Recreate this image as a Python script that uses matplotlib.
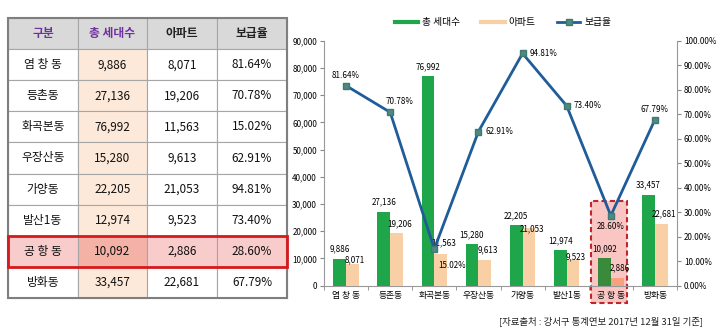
import numpy as np
import matplotlib.pyplot as plt
from matplotlib.patches import Rectangle
from matplotlib.lines import Line2D
from matplotlib.ticker import FuncFormatter

plt.rcParams['font.family'] = ['Noto Sans CJK KR', 'DejaVu Sans']

# 강서구 동별 주택 보급율
dongs = ['염 창 동', '등촌동', '화곡본동', '우장산동', '가양동', '발산1동', '공 항 동', '방화동']
households = [9886, 27136, 76992, 15280, 22205, 12974, 10092, 33457]
apartments = [8071, 19206, 11563, 9613, 21053, 9523, 2886, 22681]
supply_rate = [81.64, 70.78, 15.02, 62.91, 94.81, 73.40, 28.60, 67.79]
header = ['구분', '총 세대수', '아파트', '보급율']
highlight = 6  # 공항동

# label placement (points above bar top / side of marker)
apt_dy = [3, 7, 8, 7, 0, 2, 7, 7]
rate_pos = ['top', 'topright', 'belowright', 'right', 'right', 'right', 'below', 'top']

W, H = 720, 328
fig = plt.figure(figsize=(W / 100, H / 100), dpi=100)

# ---------------- table (pixel coordinates) ----------------
tab = fig.add_axes([0, 0, 1, 1])
tab.set_xlim(0, W)
tab.set_ylim(H, 0)
tab.axis('off')

col_x = [8, 78, 147, 217, 287]
top, bottom = 18, 298
nrows = len(dongs) + 1
row_h = (bottom - top) / nrows

for r in range(nrows):
    y0 = top + r * row_h
    for c in range(4):
        x0 = col_x[c]
        if r == 0:
            fc = '#d9d9d9'
        elif r - 1 == highlight:
            fc = '#f4b1a6' if c == 1 else '#f9cccc'
        elif c == 1:
            fc = '#fde9d9'
        else:
            fc = 'white'
        tab.add_patch(Rectangle((x0, y0), col_x[c + 1] - x0, row_h, fc=fc,
                                ec='#a6a6a6', lw=0.8))
        if r == 0:
            txt = header[c]
            color = '#7030a0' if c < 2 else '#222222'
        else:
            i = r - 1
            txt = [dongs[i], f'{households[i]:,}', f'{apartments[i]:,}',
                   f'{supply_rate[i]:.2f}%'][c]
            color = '#111111'
        tab.text((x0 + col_x[c + 1]) / 2, y0 + row_h / 2, txt, ha='center',
                 va='center', fontsize=8.5, color=color,
                 fontweight='bold' if r == 0 else 'medium')

# outer frame and highlighted row
tab.add_patch(Rectangle((col_x[0], top), col_x[-1] - col_x[0], bottom - top,
                        fill=False, ec='#7f7f7f', lw=1.5))
hy = top + (highlight + 1) * row_h
tab.add_patch(Rectangle((col_x[0], hy), col_x[-1] - col_x[0], row_h,
                        fill=False, ec='#d7191c', lw=2))

tab.text(703, 321, '[자료출처 : 강서구 통계연보 2017년 12월 31일 기준]',
         ha='right', va='center', fontsize=6.8, color='#222222',
         fontweight='medium')

# ---------------- chart ----------------
ax = fig.add_axes([324 / W, 1 - 285.7 / H, (677 - 324) / W, (285.7 - 40.7) / H])
ax2 = ax.twinx()
x = np.arange(len(dongs))
bw = 0.29

green = ['#1fa64b'] * len(dongs)
peach = ['#f9cfa6'] * len(dongs)
green[highlight] = '#3a8a3c'
peach[highlight] = '#f7a27f'

ax.bar(x - bw / 2, households, bw, color=green, zorder=3)
ax.bar(x + bw / 2, apartments, bw, color=peach, zorder=3)

# dashed highlight box behind 공항동, running below the axis
ax.add_patch(Rectangle((highlight - 0.45, -6300), 0.81, 37400, fc='#f9c6c3',
                       ec='#c0272d', ls=(0, (2.5, 1.5)), lw=1.5,
                       clip_on=False, zorder=1))

for i in x:
    ax.annotate(f'{households[i]:,}', (i - bw / 2, households[i]),
                xytext=(0, 7), textcoords='offset points', ha='center',
                va='center', fontsize=5.8, zorder=5)
    ax.annotate(f'{apartments[i]:,}', (i + bw / 2 + 0.06, apartments[i]),
                xytext=(0, apt_dy[i]), textcoords='offset points', ha='center',
                va='center', fontsize=5.8, zorder=5)

ax.set_xlim(-0.5, len(dongs) - 0.5)
ax.set_ylim(0, 90000)
ax.set_yticks(np.arange(0, 90001, 10000))
ax.yaxis.set_major_formatter(FuncFormatter(lambda v, p: '0' if v == 0 else f'{int(v):,}'))
ax.set_xticks(x)
ax.set_xticklabels(dongs)
ax.set_xticks(np.arange(-0.5, len(dongs), 1), minor=True)
ax.tick_params(axis='x', which='major', length=0, labelsize=6.3, pad=4)
ax.tick_params(axis='x', which='minor', length=3, color='#888888')
ax.tick_params(axis='y', labelsize=5.8, length=3, color='#888888', pad=2)

ax2.plot(x, supply_rate, color='#1f5c99', lw=2, marker='s', ms=5,
         mfc='#4f8a80', mec='#3f7a72', zorder=4)
ax2.set_ylim(0, 100)
ax2.set_yticks(np.arange(0, 101, 10))
ax2.yaxis.set_major_formatter(FuncFormatter(lambda v, p: f'{v:.2f}%'))
ax2.tick_params(axis='y', labelsize=5.8, length=3, color='#888888', pad=2)

offsets = {'top': (0, 7, 'center'), 'topright': (7, 8, 'center'),
           'belowright': (13, -12, 'center'), 'right': (5, 0, 'left'),
           'below': (0, -8, 'center')}
for i in x:
    dx, dy, ha = offsets[rate_pos[i]]
    ax2.annotate(f'{supply_rate[i]:.2f}%', (i, supply_rate[i]), xytext=(dx, dy),
                 textcoords='offset points', ha=ha, va='center', fontsize=5.8,
                 zorder=6)

for a in (ax, ax2):
    a.spines['top'].set_visible(False)
    for s in ('left', 'right', 'bottom'):
        a.spines[s].set_color('#999999')
        a.spines[s].set_linewidth(0.8)
ax.spines['right'].set_visible(False)
ax2.spines['left'].set_visible(False)
ax2.spines['bottom'].set_visible(False)

handles = [Line2D([], [], color='#1fa64b', lw=3),
           Line2D([], [], color='#f9cfa6', lw=3),
           Line2D([], [], color='#1f5c99', lw=2, marker='s', ms=4,
                  mfc='#4f8a80', mec='#3f7a72')]
fig.legend(handles, ['총 세대수', '아파트', '보급율'], loc='center',
           bbox_to_anchor=(503 / W, 1 - 22 / H), ncol=3, frameon=False,
           fontsize=7, handlelength=2.4, columnspacing=2.2, handletextpad=0.4)

fig.savefig('out.png', dpi=100)
